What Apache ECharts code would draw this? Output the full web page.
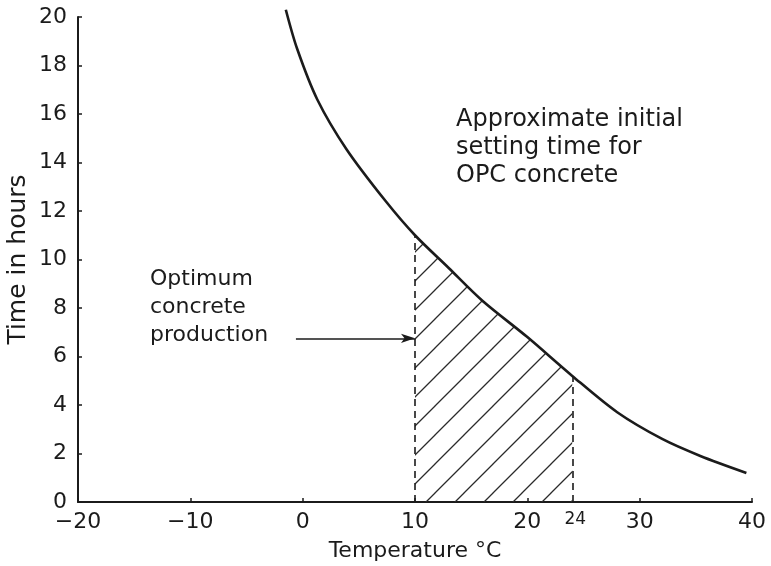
<!DOCTYPE html>
<html>
<head>
<meta charset="utf-8">
<script src="https://cdn.jsdelivr.net/npm/echarts@6/dist/echarts.min.js"></script>
<style>
  html, body { margin: 0; padding: 0; background: #fff; }
  #chart { width: 771px; height: 566px; }
</style>
</head>
<body>
<div id="chart"></div>
<script>
// Initial setting time of OPC concrete against temperature
const temps = [-1.5, -0.5, 1.3, 3.9, 7.4, 10, 13, 16, 20, 24, 28, 32, 35.4, 39.5];
const times = [20.3, 18.7, 16.6, 14.55, 12.4, 11.0, 9.65, 8.3, 6.8, 5.2, 3.7, 2.6, 1.9, 1.2];

// Optimum production band (°C) and the arrow pointing into it
const optimumRange = [10, 24];
const arrowFrom = [-0.6, 6.75];

// Axis ticks and labels
const xTickValues = [-20, -10, 0, 10, 20, 30, 40];
const xLabelValues = [-20, -10, 0, 10, 20, 24, 30, 40];
const yTickValues = [0, 2, 4, 6, 8, 10, 12, 14, 16, 18, 20];

const INK = '#1b1b1b';
const FONT = 'DejaVu Sans';

const curve = temps.map((t, i) => [t, times[i]]);
const band = curve.filter(p => p[0] >= optimumRange[0] && p[0] <= optimumRange[1]);
const timeAt = t => times[temps.indexOf(t)];

// 45° hatch tile
function hatchTile(size, width, color) {
  const c = document.createElement('canvas');
  c.width = size; c.height = size;
  const g = c.getContext('2d');
  g.strokeStyle = color;
  g.lineWidth = width;
  g.beginPath();
  g.moveTo(-2, size + 2); g.lineTo(size + 2, -2);
  g.moveTo(-2, 2); g.lineTo(2, -2);
  g.moveTo(size - 2, size + 2); g.lineTo(size + 2, size - 2);
  g.stroke();
  return c;
}

const chart = echarts.init(document.getElementById('chart'), null, { renderer: 'canvas' });

chart.setOption({
  backgroundColor: '#ffffff',
  animation: false,
  textStyle: { fontFamily: FONT, color: INK },
  grid: { left: 78, right: 19, top: 17, bottom: 64, containLabel: false, outerBoundsMode: 'none' },
  xAxis: {
    type: 'value',
    min: -20, max: 40, interval: 10,
    name: 'Temperature °C',
    nameLocation: 'middle',
    nameGap: 38,
    nameMoveOverlap: false,
    nameTextStyle: { fontSize: 22, color: INK, fontFamily: FONT },
    splitLine: { show: false },
    axisLine: { show: true, onZero: false, lineStyle: { color: INK, width: 2 } },
    axisTick: { show: true, inside: true, length: 4, customValues: xTickValues, lineStyle: { color: INK, width: 1.5 } },
    axisLabel: {
      customValues: xLabelValues,
      margin: 9,
      fontSize: 22,
      color: INK,
      fontFamily: FONT,
      formatter: v => v === 24 ? '{s|24}' : String(v).replace('-', '\u2212'),
      rich: { s: { fontSize: 17, color: INK, fontFamily: FONT, padding: [0, 0, 4, 6] } }
    }
  },
  yAxis: {
    type: 'value',
    min: 0, max: 20, interval: 2,
    name: 'Time in hours',
    nameLocation: 'middle',
    nameGap: 47,
    nameMoveOverlap: false,
    nameTextStyle: { fontSize: 25, color: INK, fontFamily: FONT },
    splitLine: { show: false },
    axisLine: { show: true, onZero: false, lineStyle: { color: INK, width: 2 } },
    axisTick: { show: true, inside: true, length: 4, customValues: yTickValues, lineStyle: { color: INK, width: 1.5 } },
    axisLabel: { customValues: yTickValues, margin: 11, fontSize: 22, color: INK, fontFamily: FONT }
  },
  series: [
    {
      // hatched optimum band under the curve
      type: 'line',
      data: band,
      smooth: 0.3,
      symbol: 'none',
      lineStyle: { width: 0 },
      areaStyle: {
        origin: 'start',
        opacity: 1,
        color: { image: hatchTile(29, 1.3, '#2a2a2a'), repeat: 'repeat' }
      },
      z: 1,
      silent: true
    },
    {
      type: 'line',
      data: curve,
      smooth: 0.3,
      symbol: 'none',
      clip: false,
      lineStyle: { color: INK, width: 2.6 },
      z: 3,
      silent: true,
      markLine: {
        silent: true,
        symbol: ['none', 'none'],
        label: { show: false },
        lineStyle: { color: INK, width: 1.6, type: [7, 5] },
        data: optimumRange.map(t => [
          { coord: [t, 0] },
          { coord: [t, timeAt(t)] }
        ])
      }
    },
    {
      // pointer from the "Optimum concrete production" note
      type: 'line',
      data: [],
      symbol: 'none',
      silent: true,
      markLine: {
        silent: true,
        symbol: ['none', 'arrow'],
        symbolSize: [7, 14],
        label: { show: false },
        lineStyle: { color: INK, width: 1.6, type: 'solid' },
        data: [[
          { coord: arrowFrom },
          { coord: [optimumRange[0], arrowFrom[1]] }
        ]]
      }
    }
  ],
  graphic: [
    {
      type: 'text',
      left: 456, top: 106,
      style: {
        text: 'Approximate initial\nsetting time for\nOPC concrete',
        font: '24px "DejaVu Sans"',
        fill: INK,
        lineHeight: 28
      }
    },
    {
      type: 'text',
      left: 150, top: 265,
      style: {
        text: 'Optimum\nconcrete\nproduction',
        font: '22px "DejaVu Sans"',
        fill: INK,
        lineHeight: 28
      }
    }
  ]
});
</script>
</body>
</html>
